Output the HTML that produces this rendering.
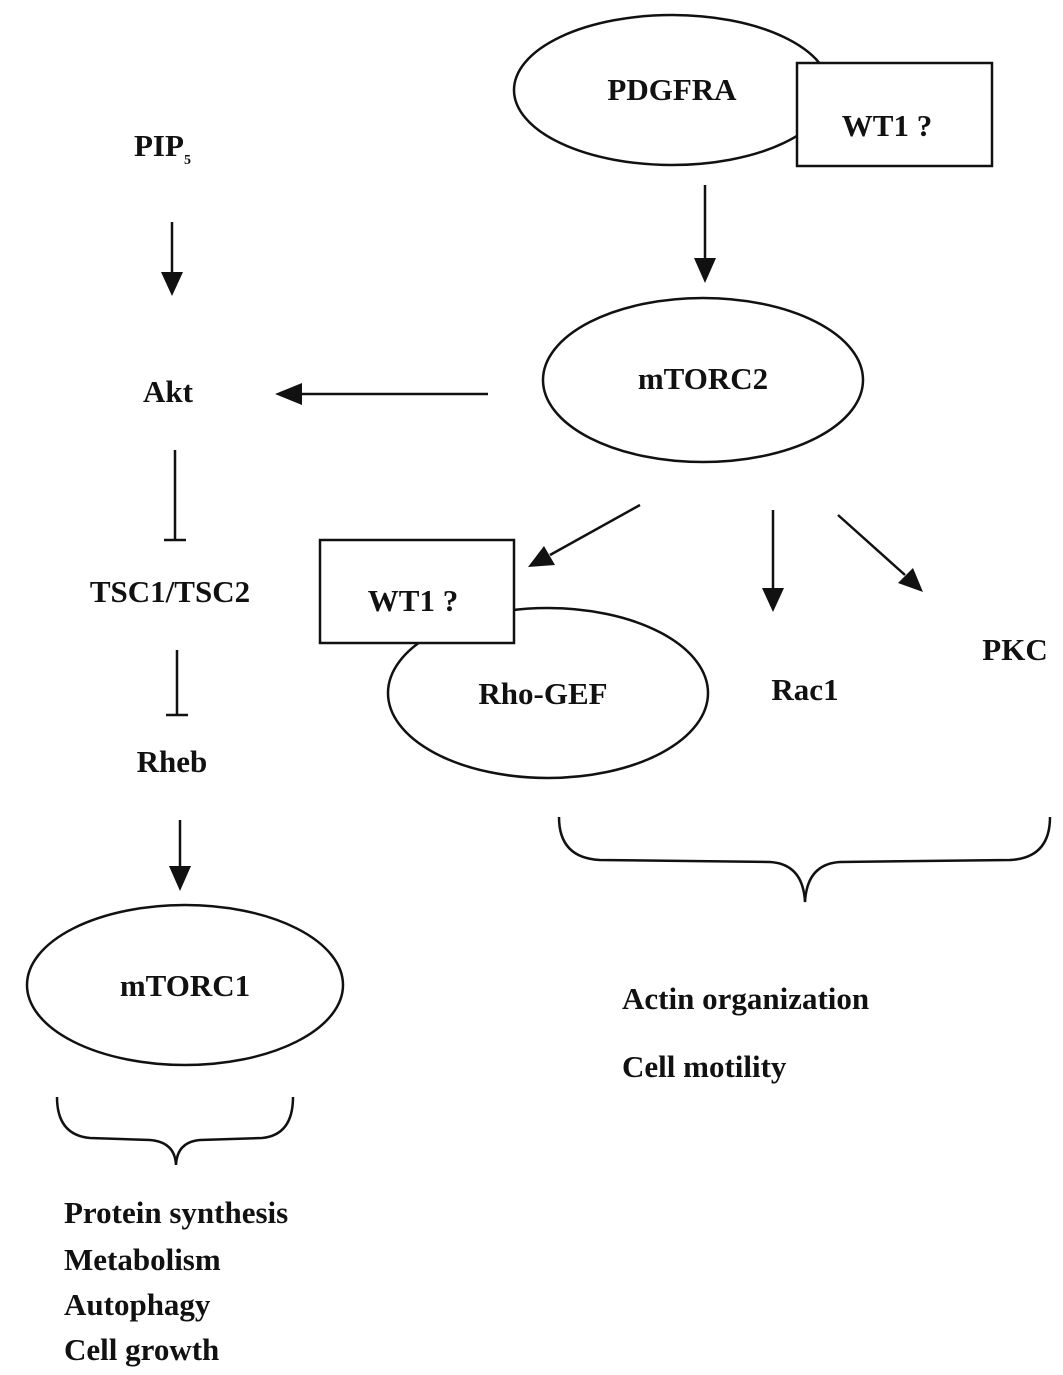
<!DOCTYPE html>
<html><head><meta charset="utf-8"><style>
html,body{margin:0;padding:0;background:#fff;}
svg{display:block;}
text{font-family:"Liberation Serif",serif;font-weight:bold;fill:#111;}
</style></head><body>
<svg width="1063" height="1375" viewBox="0 0 1063 1375" xmlns="http://www.w3.org/2000/svg">
<defs><marker id="a" markerWidth="10" markerHeight="10" refX="8" refY="5" orient="auto" markerUnits="userSpaceOnUse"><path d="M0,0 L0,0" /></marker></defs>
<g stroke="#111" stroke-width="2.5" fill="#fff">
<ellipse cx="672" cy="90" rx="158" ry="75"/>
<rect x="797" y="63" width="195" height="103"/>
<ellipse cx="703" cy="380" rx="160" ry="82"/>
<ellipse cx="185" cy="985" rx="158" ry="80"/>
<ellipse cx="548" cy="693" rx="160" ry="85"/>
<rect x="320" y="540" width="194" height="103"/>
</g>
<g stroke="#111" stroke-width="2.5" fill="none">
<line x1="705" y1="185" x2="705" y2="262"/>
<line x1="488" y1="394" x2="300" y2="394"/>
<line x1="172" y1="222" x2="172" y2="275"/>
<line x1="175" y1="450" x2="175" y2="540"/><line x1="164" y1="540" x2="186" y2="540"/>
<line x1="177" y1="650" x2="177" y2="715"/><line x1="166" y1="715" x2="188" y2="715"/>
<line x1="180" y1="820" x2="180" y2="870"/>
<line x1="640" y1="505" x2="550" y2="555"/>
<line x1="773" y1="510" x2="773" y2="590"/>
<line x1="838" y1="515" x2="905" y2="575"/>
<path d="M57,1097 Q57,1135 90,1138 L150,1140 Q175,1142 176,1165 Q177,1142 200,1140 L262,1138 Q293,1135 293,1097"/>
<path d="M559,817 Q559,858 600,860 L770,862 Q803,864 805,902 Q807,864 840,862 L1010,860 Q1050,858 1050,817"/>
</g>
<g fill="#111">
<polygon points="694,258 716,258 705,283"/>
<polygon points="302,383 302,405 275,394"/>
<polygon points="161,272 183,272 172,296"/>
<polygon points="169,866 191,866 180,891"/>
<polygon points="762,588 784,588 773,612"/>
<polygon points="544,546 555,565 528,567"/>
<polygon points="898,583 913,568 923,592"/>
</g>
<g font-size="31">
<text x="672" y="100" text-anchor="middle">PDGFRA</text>
<text x="887" y="136" text-anchor="middle">WT1 ?</text>
<text x="703" y="389" text-anchor="middle">mTORC2</text>
<text x="413" y="611" text-anchor="middle">WT1 ?</text>
<text x="543" y="704" text-anchor="middle">Rho-GEF</text>
<text x="805" y="700" text-anchor="middle">Rac1</text>
<text x="1015" y="660" text-anchor="middle">PKC</text>
<text x="185" y="996" text-anchor="middle">mTORC1</text>
<text x="134" y="156">PIP<tspan font-size="14" dy="8">5</tspan></text>
<text x="168" y="402" text-anchor="middle">Akt</text>
<text x="170" y="602" text-anchor="middle">TSC1/TSC2</text>
<text x="172" y="772" text-anchor="middle">Rheb</text>
<text x="622" y="1009">Actin organization</text>
<text x="622" y="1077">Cell motility</text>
<text x="64" y="1223">Protein synthesis</text>
<text x="64" y="1270">Metabolism</text>
<text x="64" y="1315">Autophagy</text>
<text x="64" y="1360">Cell growth</text>
</g>
</svg>
</body></html>
